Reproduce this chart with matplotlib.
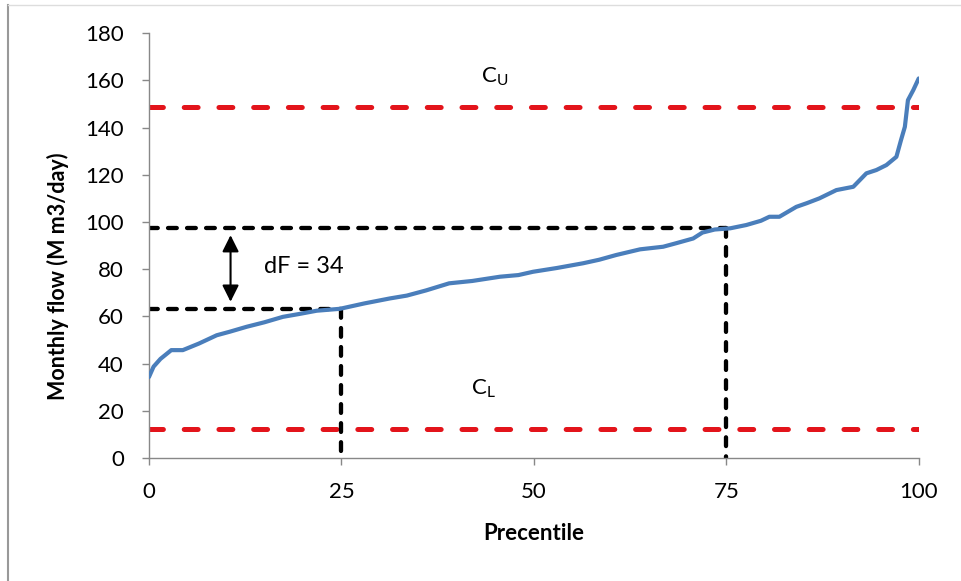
import matplotlib
matplotlib.use("Agg")
import matplotlib.pyplot as plt
from matplotlib.lines import Line2D

plt.rcParams['font.family'] = ['Lato', 'DejaVu Sans']
plt.rcParams['mathtext.fontset'] = 'custom'
plt.rcParams['mathtext.rm'] = 'Lato'
plt.rcParams['mathtext.it'] = 'Lato'
plt.rcParams['lines.scale_dashes'] = False

# Flow-duration style curve (percentile vs monthly flow)
percentile = [0, 0.6, 1.5, 2.9, 4.4, 6.5, 8.8, 10.5, 12.7, 15.0, 17.4, 19.5, 21.8,
              24.8, 28.0, 31.3, 33.5, 36.0, 39.0, 42.0, 45.6, 48.0, 49.9, 53.0,
              56.4, 58.5, 60.7, 63.8, 66.8, 68.5, 70.7, 71.9, 73.5, 75.5, 77.6,
              79.5, 80.6, 81.9, 84.1, 85.5, 87.1, 89.3, 91.5, 93.2, 94.5, 95.8,
              97.1, 97.7, 98.2, 98.6, 99.3, 100]
flow = [34.3, 38.7, 42.0, 45.7, 45.7, 48.5, 52.0, 53.5, 55.6, 57.5, 59.8, 61.0, 62.4,
        63.2, 65.5, 67.6, 68.8, 71.0, 74.0, 75.0, 76.8, 77.5, 78.9, 80.5,
        82.5, 84.0, 86.0, 88.4, 89.5, 91.0, 93.0, 95.5, 96.8, 97.3, 98.7,
        100.5, 102.2, 102.2, 106.4, 108.0, 110.0, 113.5, 114.9, 120.6, 122.0, 124.1,
        127.6, 134.7, 140.3, 151.6, 155.9, 160.8]

c_upper = 148.5
c_lower = 12.3
p_low, p_high = 25, 75
f_low, f_high = 63.3, 97.3
df_label = "dF = 34"

xticks = [0, 25, 50, 75, 100]
yticks = [0, 20, 40, 60, 80, 100, 120, 140, 160, 180]

fig = plt.figure(figsize=(9.61, 5.81), dpi=100)
ax = fig.add_axes([0.155, 0.2117, 0.801, 0.7313])

red = '#E3141B'
red_kw = dict(color=red, lw=3.6, dashes=(10, 15), dash_capstyle='round', zorder=2)
ax.plot([0, 100], [c_upper, c_upper], **red_kw)
ax.plot([0, 100], [c_lower, c_lower], **red_kw)

blk_kw = dict(color='black', lw=3.1, dashes=(6.3, 7.4), dash_capstyle='round', zorder=2)
ax.plot([0, p_high], [f_high, f_high], **blk_kw)
ax.plot([0, p_low], [f_low, f_low], **blk_kw)
ax.plot([p_low, p_low], [f_low, 0], **blk_kw)
ax.plot([p_high, p_high], [f_high, 0], **blk_kw)

ax.plot(percentile, flow, color='#4A7EBB', lw=3, zorder=3, solid_joinstyle='round',
        solid_capstyle='round')

ax.annotate('', xy=(10.6, 94.4), xytext=(10.6, 66.2),
            arrowprops=dict(arrowstyle='<|-|>', color='black', lw=1.5,
                            mutation_scale=25, shrinkA=0, shrinkB=0))
ax.text(15, 81, df_label, fontsize=17, va='center', ha='left')
ax.text(43.2, 161.5, r'C$_\mathrm{U}$', fontsize=16, va='center', ha='left')
ax.text(41.9, 29.5, r'C$_\mathrm{L}$', fontsize=16, va='center', ha='left')

ax.set_xlim(0, 100)
ax.set_ylim(0, 180)
ax.set_xticks(xticks)
ax.set_yticks(yticks)
ax.tick_params(labelsize=16, color='#888888', length=5, width=1)
ax.tick_params(axis='x', pad=12)
ax.tick_params(axis='y', pad=13)
for s in ['top', 'right']:
    ax.spines[s].set_visible(False)
for s in ['left', 'bottom']:
    ax.spines[s].set_color('#888888')
    ax.spines[s].set_linewidth(1)

fig.text(534 / 961, 1 - 533 / 581, 'Precentile', fontsize=16, fontweight='bold',
         ha='center', va='center')
fig.text(58 / 961, 1 - 276 / 581, 'Monthly flow (M m3/day)', fontsize=15.5,
         fontweight='bold', rotation=90, ha='center', va='center')

# Frame lines of the original picture
fig.add_artist(Line2D([0.008, 0.008], [0, 0.992], transform=fig.transFigure,
                      color='#999999', lw=1.5))
fig.add_artist(Line2D([0.008, 1], [0.992, 0.992], transform=fig.transFigure,
                      color='#dddddd', lw=1))

fig.savefig('out.png', dpi=100)
